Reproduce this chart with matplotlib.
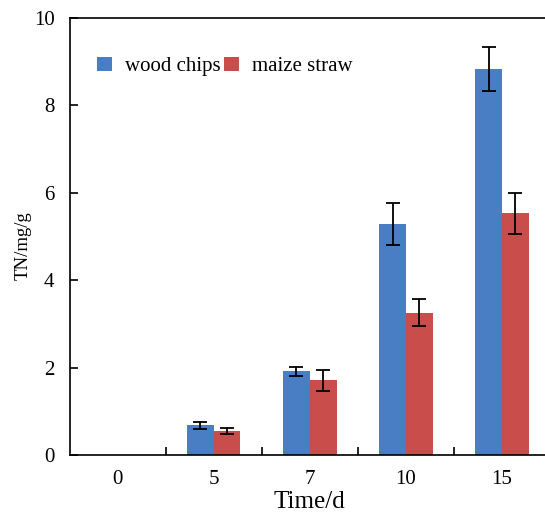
import numpy as np
import matplotlib
matplotlib.use('Agg')
import matplotlib.pyplot as plt
from matplotlib.ticker import FixedLocator

plt.rcParams['font.family'] = 'Liberation Serif'

days = ['0', '5', '7', '10', '15']
wood = [0.0, 0.68, 1.91, 5.28, 8.83]
wood_err = [0.0, 0.08, 0.11, 0.48, 0.51]
maize = [0.0, 0.55, 1.71, 3.25, 5.53]
maize_err = [0.0, 0.07, 0.24, 0.31, 0.47]

blue = '#4a7ec4'
red = '#c94d4b'

fig = plt.figure(figsize=(5.45, 5.14), dpi=100)
ax = fig.add_axes([0.128, 0.115, 0.881, 0.85])

x = np.arange(len(days))
w = 0.278
ekw = dict(ecolor='black', elinewidth=1.3, capsize=5, capthick=1.3)
show = np.array(wood) > 0
ax.bar(x[show] - w/2, np.array(wood)[show], w, color=blue, label='wood chips')
ax.bar(x[show] + w/2, np.array(maize)[show], w, color=red, label='maize straw')
ax.errorbar(x[show] - w/2, np.array(wood)[show], yerr=np.array(wood_err)[show],
            fmt='none', **ekw)
ax.errorbar(x[show] + w/2, np.array(maize)[show], yerr=np.array(maize_err)[show],
            fmt='none', **ekw)

ax.set_xlim(-0.5, 4.5)
ax.set_ylim(0, 10)
ax.set_xticks(x)
ax.set_xticklabels(days)
ax.xaxis.set_minor_locator(FixedLocator([0.5, 1.5, 2.5, 3.5]))
ax.tick_params(axis='x', which='major', length=0, pad=11, labelsize=15)
ax.tick_params(axis='x', which='minor', direction='in', length=6, width=1.2)
ax.set_yticks([0, 2, 4, 6, 8, 10])
ax.tick_params(axis='y', direction='in', length=6, width=1.2, pad=11, labelsize=15)
for s in ax.spines.values():
    s.set_linewidth(1.2)

ax.set_xlabel('Time/d', fontsize=18)
ax.xaxis.set_label_coords(0.5, -0.082)
ax.set_ylabel('TN/mg/g', fontsize=13.5)
ax.yaxis.set_label_coords(-0.08, 0.48)

ax.legend(loc='upper left', bbox_to_anchor=(0.04, 0.93), ncol=2, frameon=False,
          fontsize=15, handlelength=0.7, handleheight=0.7, handletextpad=0.65,
          columnspacing=0.15, borderaxespad=0)

fig.savefig('out.png', dpi=100)
